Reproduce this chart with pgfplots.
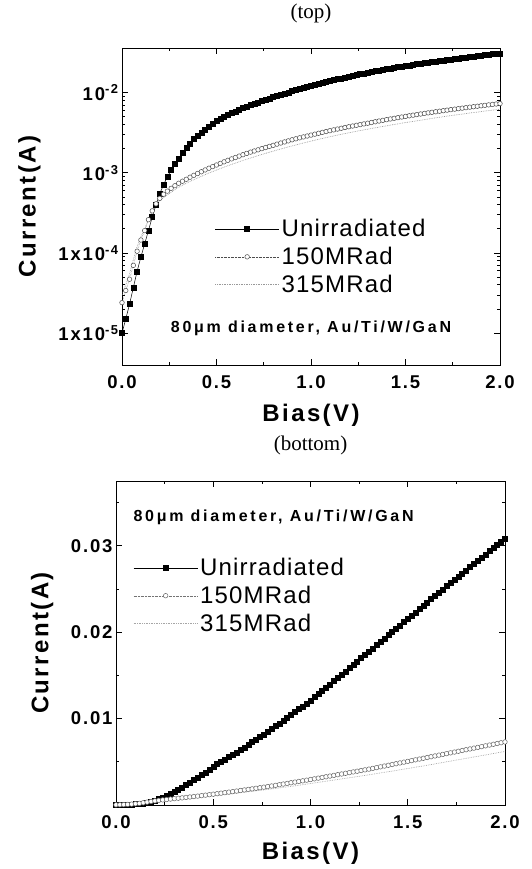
\documentclass[border=0pt]{standalone}
\usepackage{fontspec}
\setmainfont{Liberation Sans}
\newfontfamily\spaced[LetterSpace=10]{Liberation Sans}
\newfontfamily\legfont[LetterSpace=5]{Liberation Sans}
\newfontfamily\wide[LetterSpace=17]{Liberation Sans}
\newfontfamily\serif{Liberation Serif}
\usepackage{pgfplots}
\pgfplotsset{compat=1.18}
\usepackage{pgfplotstable}

% bias (V), currents in mA
\pgfplotstableread{
V U A B
0.00 0.0100 0.024 0.030
0.02 0.0150 0.034 0.040
0.04 0.0230 0.047 0.055
0.06 0.0370 0.070 0.082
0.08 0.0590 0.105 0.120
0.10 0.0890 0.145 0.160
0.12 0.130 0.190 0.200
0.14 0.190 0.260 0.260
0.16 0.280 0.335 0.330
0.18 0.400 0.410 0.390
0.20 0.550 0.480 0.450
0.22 0.710 0.540 0.490
0.24 0.890 0.590 0.530
0.26 1.08 0.640 0.570
0.28 1.29 0.690 0.615
0.30 1.51 0.740 0.660
0.32 1.76 0.785 0.700
0.34 2.04 0.830 0.740
0.36 2.33 0.880 0.780
0.38 2.62 0.930 0.820
0.40 2.91 0.980 0.860
0.42 3.20 1.030 0.904
0.44 3.49 1.085 0.948
0.46 3.78 1.140 0.992
0.48 4.10 1.195 1.036
0.50 4.45 1.250 1.080
0.52 4.72 1.310 1.128
0.54 4.99 1.370 1.176
0.56 5.26 1.430 1.224
0.58 5.54 1.490 1.272
0.60 5.82 1.550 1.320
0.62 6.10 1.615 1.372
0.64 6.39 1.680 1.424
0.66 6.68 1.745 1.476
0.68 6.97 1.810 1.528
0.70 7.27 1.870 1.580
0.72 7.57 1.935 1.636
0.74 7.87 2.000 1.692
0.76 8.18 2.065 1.748
0.78 8.49 2.135 1.804
0.80 8.80 2.200 1.860
0.82 9.12 2.275 1.920
0.84 9.44 2.350 1.980
0.86 9.76 2.425 2.040
0.88 10.09 2.500 2.100
0.90 10.42 2.580 2.160
0.92 10.75 2.655 2.224
0.94 11.09 2.730 2.288
0.96 11.43 2.800 2.352
0.98 11.77 2.875 2.416
1.00 12.11 2.950 2.480
1.02 12.48 3.030 2.547
1.04 12.85 3.110 2.614
1.06 13.22 3.190 2.681
1.08 13.59 3.270 2.748
1.10 13.96 3.350 2.815
1.12 14.33 3.430 2.882
1.14 14.71 3.510 2.949
1.16 15.09 3.590 3.016
1.18 15.47 3.670 3.083
1.20 15.85 3.750 3.150
1.22 16.23 3.830 3.220
1.24 16.61 3.910 3.290
1.26 16.99 3.990 3.360
1.28 17.37 4.070 3.430
1.30 17.75 4.150 3.500
1.32 18.13 4.240 3.570
1.34 18.51 4.330 3.640
1.36 18.89 4.420 3.710
1.38 19.27 4.510 3.780
1.40 19.65 4.600 3.850
1.42 20.03 4.690 3.925
1.44 20.41 4.780 4.000
1.46 20.79 4.870 4.075
1.48 21.17 4.960 4.150
1.50 21.55 5.050 4.225
1.52 21.93 5.140 4.300
1.54 22.31 5.230 4.375
1.56 22.69 5.320 4.450
1.58 23.07 5.410 4.525
1.60 23.45 5.500 4.600
1.62 23.83 5.590 4.680
1.64 24.21 5.680 4.760
1.66 24.58 5.770 4.840
1.68 24.95 5.860 4.920
1.70 25.32 5.950 5.000
1.72 25.69 6.040 5.080
1.74 26.06 6.130 5.160
1.76 26.43 6.220 5.240
1.78 26.80 6.310 5.320
1.80 27.17 6.400 5.400
1.82 27.54 6.490 5.480
1.84 27.91 6.580 5.560
1.86 28.28 6.670 5.640
1.88 28.65 6.760 5.720
1.90 29.02 6.850 5.800
1.92 29.39 6.940 5.880
1.94 29.76 7.030 5.960
1.96 30.13 7.120 6.040
1.98 30.50 7.210 6.120
2.00 30.87 7.300 6.200
}\iv

\pgfplotsset{
  ivax/.style={
    scale only axis,
    xmin=0, xmax=2,
    xtick={0,0.5,1,1.5,2},
    xticklabels={0.0,0.5,1.0,1.5,2.0},
    minor x tick num=1,
    axis line style={line width=0.8pt},
    every tick/.style={black, line width=0.7pt},
    tick align=inside,
    major tick length=6pt,
    minor tick length=3pt,
    tick label style={font=\spaced\fontsize{18.5}{18.5}\selectfont\bfseries},
    xticklabel style={yshift=-7pt},
    label style={font=\spaced\fontsize{24}{24}\selectfont\bfseries},
    title style={font=\serif\fontsize{21}{21}\selectfont, anchor=center},
    xlabel={Bias(V)},
    ylabel={Current(A)},
    scaled y ticks=false,
    legend cell align=left,
    legend style={draw=none, fill=none, anchor=north west,
      font=\legfont\fontsize{24}{24}\selectfont,
      row sep=5pt, inner sep=0pt},
    legend image code/.code={\draw[mark repeat=2,mark phase=2,##1]
      plot coordinates {(0pt,0pt) (32pt,0pt) (64pt,0pt)};},
  },
  unirr/.style={black, line width=0.5pt, mark=square*, mark size=2.5pt,
    mark options={solid, fill=black}},
  r150/.style={black!70, line width=0.4pt, densely dotted, mark=*, mark size=2.3pt,
    mark options={solid, fill=white, draw=black!70, line width=0.5pt}},
  r315/.style={black!40, line width=0.7pt, densely dotted},
}

\begin{document}
\begin{tikzpicture}
\path[use as bounding box] (0pt,0pt) rectangle (532pt,-869pt);

\begin{axis}[ivax,
  at={(122pt,-365pt)}, anchor=south west,
  width=378pt, height=317pt,
  ymode=log, ymin=4e-6, ymax=0.036,
  ytick={1e-5,1e-4,1e-3,1e-2},
  yticklabels={1x10\textsuperscript{-5},1x10\textsuperscript{-4},10\textsuperscript{-3},10\textsuperscript{-2}},
  title={(top)},
  title style={at={(axis description cs:0.5,1)}, yshift=29pt},
  xlabel style={at={(axis description cs:0.5,-0.16)}, anchor=center},
  ylabel style={at={(axis description cs:-0.245,0.5)}, anchor=center},
  legend style={at={(axis description cs:0.245,0.466)}},
]
\addplot[unirr] table[x=V, y expr=\thisrow{U}/1000] {\iv};
\addplot[r150] table[x=V, y expr=\thisrow{A}/1000] {\iv};
\addplot[r315] table[x=V, y expr=\thisrow{B}/1000] {\iv};
\legend{Unirradiated,150MRad,315MRad}
\node[font=\wide\fontsize{16}{16}\selectfont\bfseries, anchor=center]
  at (axis description cs:0.5,0.117) {80μm diameter, Au/Ti/W/GaN};
\end{axis}

\begin{axis}[ivax,
  at={(116pt,-805pt)}, anchor=south west,
  width=389pt, height=324pt,
  ymin=0, ymax=0.0375,
  ytick={0.01,0.02,0.03},
  yticklabels={0.01,0.02,0.03},
  minor ytick={0.005,0.015,0.025,0.035},
  title={(bottom)},
  title style={at={(axis description cs:0.5,1)}, yshift=30pt},
  xlabel style={at={(axis description cs:0.5,-0.148)}, anchor=center},
  ylabel style={at={(axis description cs:-0.19,0.5)}, anchor=center},
  legend style={at={(axis description cs:0.044,0.768)}},
]
\addplot[unirr] table[x=V, y expr=\thisrow{U}/1000] {\iv};
\addplot[r150, draw=black!55, mark options={solid, fill=white, draw=black!60, line width=0.5pt}] table[x=V, y expr=\thisrow{A}/1000] {\iv};
\addplot[r315, draw=black!35] table[x=V, y expr=\thisrow{B}/1000] {\iv};
\legend{Unirradiated,150MRad,315MRad}
\node[font=\wide\fontsize{16}{16}\selectfont\bfseries, anchor=west]
  at (axis description cs:0.036,0.889) {80μm diameter, Au/Ti/W/GaN};
\end{axis}
\end{tikzpicture}
\end{document}
